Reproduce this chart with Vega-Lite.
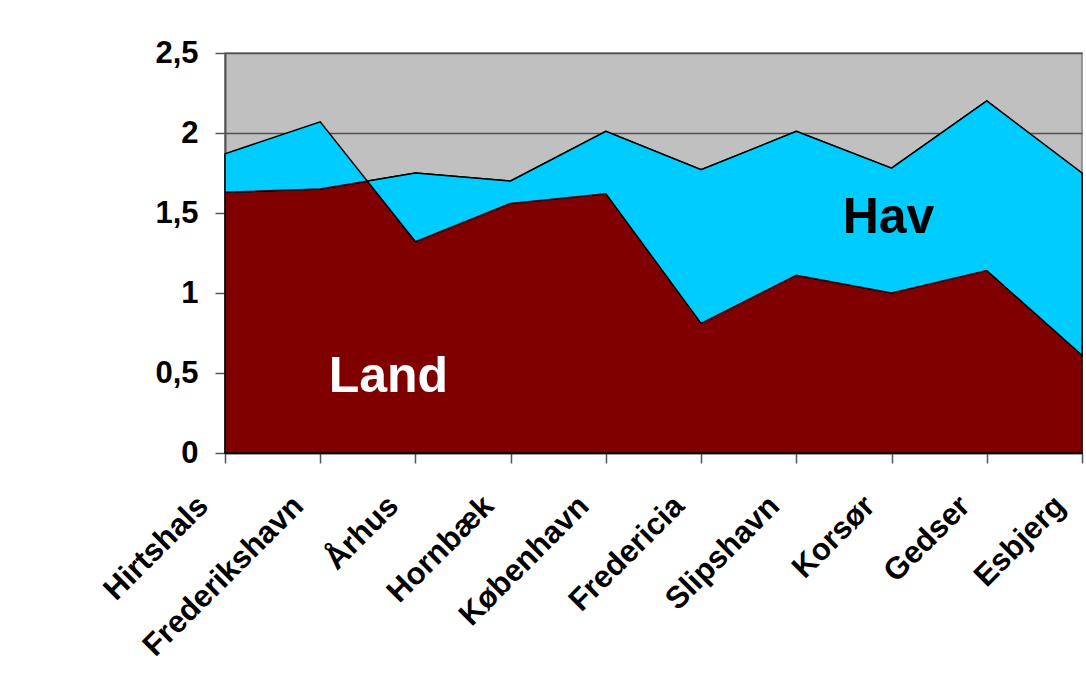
{
  "$schema": "https://vega.github.io/schema/vega-lite/v6.json",
  "width": 857,
  "height": 400,
  "autosize": {"type": "none"},
  "padding": {"left": 225, "top": 53, "right": 4, "bottom": 235},
  "background": "white",
  "config": {
    "view": {"fill": "#C0C0C0", "stroke": "#808080", "strokeWidth": 1.5},
    "font": "Liberation Sans"
  },
  "data": {
    "values": [
      {"station": "Hirtshals", "land": 1.63, "landPlusHav": 1.87},
      {"station": "Frederikshavn", "land": 1.65, "landPlusHav": 2.07},
      {"station": "Århus", "land": 1.75, "landPlusHav": 1.32},
      {"station": "Hornbæk", "land": 1.70, "landPlusHav": 1.56},
      {"station": "København", "land": 2.01, "landPlusHav": 1.62},
      {"station": "Fredericia", "land": 1.77, "landPlusHav": 0.81},
      {"station": "Slipshavn", "land": 2.01, "landPlusHav": 1.11},
      {"station": "Korsør", "land": 1.78, "landPlusHav": 1.00},
      {"station": "Gedser", "land": 2.20, "landPlusHav": 1.14},
      {"station": "Esbjerg", "land": 1.75, "landPlusHav": 0.61}
    ]
  },
  "encoding": {
    "x": {
      "field": "station",
      "type": "nominal",
      "sort": null,
      "scale": {"type": "point", "padding": 0},
      "axis": {
        "title": null,
        "labelAngle": -45,
        "labelAlign": "right",
        "labelBaseline": "middle",
        "labelFont": "Liberation Sans",
        "labelFontSize": 31,
        "labelFontWeight": "bold",
        "labelColor": "black",
        "labelOffset": -22,
        "labelPadding": 38,
        "labelLimit": 0,
        "labelOverlap": false,
        "labelBound": false,
        "labelFlush": false,
        "tickSize": 10,
        "tickColor": "#555555",
        "tickWidth": 1.5,
        "domainColor": "black",
        "domainWidth": 1.5,
        "grid": false
      }
    }
  },
  "layer": [
    {
      "mark": {"type": "area", "color": "#800000", "stroke": "black", "strokeWidth": 1.5, "interpolate": "linear"},
      "encoding": {
        "y": {
          "field": "land",
          "type": "quantitative",
          "scale": {"domain": [0, 2.5], "nice": false, "zero": true},
          "axis": {
            "title": null,
            "values": [0, 0.5, 1, 1.5, 2, 2.5],
            "labelExpr": "replace(format(datum.value, '.1~f'), '.', ',')",
            "labelFont": "Liberation Sans",
            "labelFontSize": 31,
            "labelFontWeight": "bold",
            "labelColor": "black",
            "labelPadding": 17,
            "tickSize": 10,
            "tickColor": "#555555",
            "tickWidth": 1.5,
            "domainColor": "#555555",
            "domainWidth": 2,
            "grid": true,
            "gridColor": "#505050",
            "gridWidth": 1.5
          }
        }
      }
    },
    {
      "mark": {"type": "area", "color": "#00CCFF", "stroke": "black", "strokeWidth": 1.5, "interpolate": "linear"},
      "encoding": {
        "y": {"field": "land", "type": "quantitative"},
        "y2": {"field": "landPlusHav"}
      }
    },
    {
      "data": {"values": [{"station": "Århus", "value": 0.38, "label": "Land"}]},
      "mark": {"type": "text", "color": "white", "font": "Liberation Sans", "fontSize": 50, "fontWeight": "bold", "align": "center", "baseline": "alphabetic", "dx": -27},
      "encoding": {
        "y": {"field": "value", "type": "quantitative"},
        "text": {"field": "label"}
      }
    },
    {
      "data": {"values": [{"station": "Korsør", "value": 1.375, "label": "Hav"}]},
      "mark": {"type": "text", "color": "black", "font": "Liberation Sans", "fontSize": 50, "fontWeight": "bold", "align": "center", "baseline": "alphabetic", "dx": -3},
      "encoding": {
        "y": {"field": "value", "type": "quantitative"},
        "text": {"field": "label"}
      }
    }
  ]
}
